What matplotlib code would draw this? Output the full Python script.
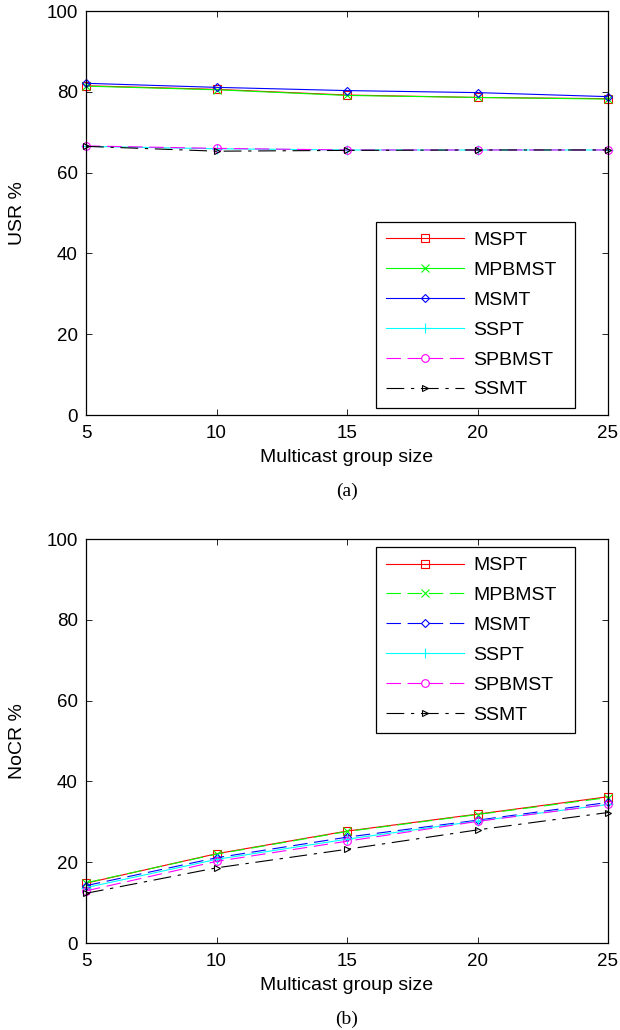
import matplotlib
matplotlib.use("Agg")
import matplotlib.pyplot as plt

plt.rcParams['font.family'] = ['Liberation Sans', 'DejaVu Sans']

group_size = [5, 10, 15, 20, 25]
names = ["MSPT", "MPBMST", "MSMT", "SSPT", "SPBMST", "SSMT"]

# USR % per algorithm
usr_mspt = [81.5, 80.6, 79.2, 78.6, 78.3]
usr_mpbmst = [81.4, 80.5, 79.1, 78.6, 78.2]
usr_msmt = [82.1, 81.1, 80.3, 79.8, 78.8]
usr_sspt = [66.5, 65.9, 65.6, 65.6, 65.6]
usr_spbmst = [66.6, 66.0, 65.6, 65.6, 65.6]
usr_ssmt = [66.5, 65.3, 65.5, 65.6, 65.6]

# NoCR % per algorithm
nocr_mspt = [14.8, 22.1, 27.7, 31.9, 36.2]
nocr_mpbmst = [14.9, 22.0, 27.6, 31.8, 36.0]
nocr_msmt = [14.2, 21.1, 26.2, 30.4, 34.8]
nocr_sspt = [13.7, 20.7, 25.7, 30.2, 34.3]
nocr_spbmst = [12.9, 20.2, 25.2, 30.1, 34.3]
nocr_ssmt = [12.3, 18.6, 23.2, 28.0, 32.3]

colors = ["#ff0000", "#00ff00", "#0000ff", "#00ffff", "#ff00ff", "#000000"]
marks = ["s", "x", "D", "+", "o", ">"]
msizes = [5.5, 5.5, 4.2, 7, 5.5, 5]
dash = (0, (13, 6))
dashdot = (0, (16, 6, 3, 6))
styles_a = ["-", "-", "-", "-", dash, dashdot]
styles_b = ["-", dash, dash, "-", dash, dashdot]

W, H = 620, 1030
fig = plt.figure(figsize=(W / 100, H / 100), dpi=100)
ax1 = fig.add_axes([86 / W, 1 - 415 / H, 522 / W, 404 / H])
ax2 = fig.add_axes([86 / W, 1 - 943 / H, 522 / W, 404 / H])

def draw(ax, series, styles, ylabel, tag, top, bottom, legend_box, legend_loc):
    for vals, name, c, m, ms, ls in zip(series, names, colors, marks, msizes, styles):
        ax.plot(group_size, vals, color=c, linestyle=ls, linewidth=0.8,
                marker=m, markersize=ms, markerfacecolor="none",
                markeredgewidth=0.8, label=name, clip_on=False)
    ax.set_xlim(5, 25)
    ax.set_ylim(0, 100)
    ax.set_xticks(group_size)
    ax.set_yticks([0, 20, 40, 60, 80, 100])
    ax.tick_params(direction="in", top=True, right=True, labelsize=13.5,
                   length=4, width=0.6)
    ax.tick_params(axis="x", pad=7)
    ax.tick_params(axis="y", pad=6)
    for s in ax.spines.values():
        s.set_linewidth(0.9)
    mid = (top + bottom) / 2
    fig.text(18 / W, 1 - mid / H, ylabel, rotation=90, ha="center",
             va="center", fontsize=14)
    fig.text(347 / W, 1 - (bottom + 43) / H, "Multicast group size",
             ha="center", va="center", fontsize=14)
    fig.text(347 / W, 1 - (bottom + 76) / H, tag, ha="center", va="center",
             fontsize=14, family="Liberation Serif")
    leg = ax.legend(loc=legend_loc, bbox_to_anchor=legend_box, mode="expand",
                    fontsize=14, handlelength=4.0, handletextpad=0.5,
                    labelspacing=0.63, borderpad=0.5, fancybox=False,
                    framealpha=1, edgecolor="black", borderaxespad=0)
    leg.get_frame().set_linewidth(0.9)

draw(ax1, [usr_mspt, usr_mpbmst, usr_msmt, usr_sspt, usr_spbmst, usr_ssmt],
     styles_a, "USR %", "(a)", 11, 415, (0.556, 0.017, 0.381, 0.46), "lower left")
draw(ax2, [nocr_mspt, nocr_mpbmst, nocr_msmt, nocr_sspt, nocr_spbmst, nocr_ssmt],
     styles_b, "NoCR %", "(b)", 539, 943, (0.556, 0.52, 0.381, 0.46), "upper left")

fig.savefig("out.png", dpi=100)
